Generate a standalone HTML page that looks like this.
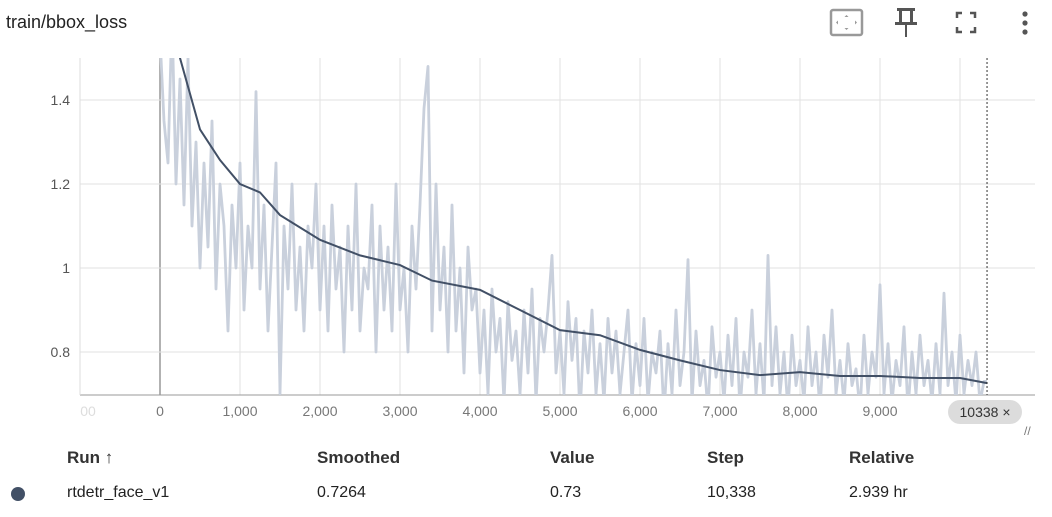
<!DOCTYPE html>
<html><head><meta charset="utf-8"><style>
body{margin:0;width:1052px;height:517px;background:#fff;font-family:"Liberation Sans",sans-serif;overflow:hidden;position:relative}
.t{position:absolute;white-space:nowrap}
</style></head><body>
<div class="t" style="left:6px;top:12px;font-size:18px;color:#222">train/bbox_loss</div>
<svg style="position:absolute;left:820px;top:0" width="232" height="50">
 <g><rect x="11" y="10" width="31" height="25" rx="2" fill="none" stroke="#999" stroke-width="2.5"/><path d="M26.5 15l-2 2h4zM26.5 30l-2-2h4zM16 22.5l2-2v4zM37 22.5l-2-2v4z" fill="#999"/></g>
 <g fill="#555"><rect x="77" y="8" width="18" height="3"/><rect x="79" y="11" width="3" height="12"/><rect x="90" y="11" width="3" height="12"/><rect x="75" y="22" width="22" height="3"/><rect x="85" y="25" width="2" height="12"/></g>
 <g fill="none" stroke="#555" stroke-width="2.5"><path d="M137 18v-5h5M150 13h5v5M155 27v5h-5M142 32h-5v-5"/></g>
 <g fill="#555"><circle cx="205" cy="14" r="2.6"/><circle cx="205" cy="23" r="2.6"/><circle cx="205" cy="32" r="2.6"/></g>
</svg>
<svg id="chart" style="position:absolute;left:0;top:0" width="1052" height="440"></svg>
<div class="t" style="left:948px;top:400px;width:74px;height:24px;border-radius:12px;background:#dcdcdc;font-size:14px;color:#333;line-height:24px;text-align:center">10338 ×</div>
<div class="t" style="left:1024px;top:424px;font-size:12px;color:#777">//</div>
<div>
<div class="t" style="left:67px;top:448px;font-size:17px;font-weight:bold;color:#333">Run ↑</div>
<div class="t" style="left:317px;top:448px;font-size:17px;font-weight:bold;color:#333">Smoothed</div>
<div class="t" style="left:550px;top:448px;font-size:17px;font-weight:bold;color:#333">Value</div>
<div class="t" style="left:707px;top:448px;font-size:17px;font-weight:bold;color:#333">Step</div>
<div class="t" style="left:849px;top:448px;font-size:17px;font-weight:bold;color:#333">Relative</div>
<div class="t" style="left:11px;top:487px;width:14px;height:14px;border-radius:50%;background:#425066"></div>
<div class="t" style="left:67px;top:484px;font-size:16px;color:#222">rtdetr_face_v1</div>
<div class="t" style="left:317px;top:484px;font-size:16px;color:#222">0.7264</div>
<div class="t" style="left:550px;top:484px;font-size:16px;color:#222">0.73</div>
<div class="t" style="left:707px;top:484px;font-size:16px;color:#222">10,338</div>
<div class="t" style="left:849px;top:484px;font-size:16px;color:#222">2.939 hr</div>
</div>
<script>
const xTicks=[-1000,0,1000,2000,3000,4000,5000,6000,7000,8000,9000];
const xTickLabels=["00","0","1,000","2,000","3,000","4,000","5,000","6,000","7,000","8,000","9,000"];
const yTicks=[0.8,1,1.2,1.4];
const yTickLabels=["0.8","1","1.2","1.4"];
const smoothSteps=[0,250,500,750,1000,1250,1500,2000,2500,3000,3400,4000,4500,5000,5500,6000,6500,7000,7500,8000,8500,9000,9500,10000,10338];
const smoothVals=[1.8,1.5,1.33,1.257,1.2,1.18,1.126,1.067,1.03,1.007,0.97,0.948,0.9,0.852,0.84,0.805,0.78,0.757,0.745,0.752,0.743,0.743,0.738,0.738,0.726];
const rawVals=[1.55,1.35,1.25,1.6,1.2,1.45,1.15,1.5,1.1,1.3,1.0,1.25,1.05,1.35,0.95,1.2,1.1,0.85,1.15,1.0,
1.25,0.9,1.1,1.0,1.42,0.95,1.15,0.85,1.05,1.25,0.7,1.1,0.95,1.2,0.9,1.05,0.85,1.1,1.0,1.2,
0.9,1.1,0.85,1.15,0.95,1.05,0.8,1.1,0.9,1.2,0.85,1.0,0.95,1.15,0.8,1.1,0.9,1.05,0.85,1.2,
0.9,1.0,0.8,1.1,0.95,1.15,1.38,1.48,0.85,1.2,0.9,1.05,0.8,1.15,0.85,1.0,0.75,1.05,0.9,0.95,
0.75,0.9,0.7,0.95,0.8,0.88,0.68,0.92,0.78,0.85,0.7,0.9,0.75,0.95,0.68,0.88,0.8,0.9,1.03,0.75,
0.85,0.7,0.92,0.78,0.88,0.65,0.85,0.75,0.9,0.7,0.82,0.68,0.88,0.75,0.85,0.7,0.8,0.9,0.68,0.82,
0.72,0.88,0.68,0.8,0.75,0.85,0.65,0.82,0.7,0.9,0.72,0.8,1.02,0.68,0.85,0.72,0.78,0.66,0.86,0.74,
0.8,0.68,0.84,0.72,0.88,0.66,0.8,0.74,0.9,0.7,0.82,0.68,1.03,0.72,0.86,0.7,0.8,0.66,0.84,0.72,
0.78,0.68,0.86,0.72,0.8,0.66,0.84,0.74,0.9,0.7,0.78,0.68,0.82,0.72,0.76,0.66,0.84,0.7,0.8,0.74,
0.96,0.7,0.82,0.68,0.78,0.72,0.86,0.66,0.8,0.7,0.84,0.72,0.78,0.68,0.82,0.7,0.94,0.72,0.8,0.68,
0.84,0.7,0.78,0.72,0.8,0.68,0.73];
const rawStepSize=50, lastStep=10338;
const X0=80,X1=1035,Y0=58,Y1=395;
const sx=s=>160+s*0.08;
const sy=v=>268-(v-1)*420;
const svg=document.getElementById('chart');
const NS='http://www.w3.org/2000/svg';
function mk(t,a){const e=document.createElementNS(NS,t);for(const k in a)e.setAttribute(k,a[k]);svg.appendChild(e);return e;}
const defs=mk('defs',{});const cp=document.createElementNS(NS,'clipPath');cp.setAttribute('id','c');
const cr=document.createElementNS(NS,'rect');cr.setAttribute('x',X0);cr.setAttribute('y',Y0);cr.setAttribute('width',X1-X0);cr.setAttribute('height',Y1-Y0);cp.appendChild(cr);defs.appendChild(cp);
xTicks.forEach((t,i)=>{
 const x=sx(t);
 if(x>X0+2){const l=mk('line',{x1:x,x2:x,y1:Y0,y2:Y1,stroke:t===0?'#999':'#e2e2e2','stroke-width':t===0?1.5:1});
 
 }
 const tx=mk('text',{x:Math.max(x,88),y:416,'text-anchor':'middle','font-size':14,fill:i===0?'#ddd':'#777','font-family':'Liberation Sans'});
 tx.textContent=xTickLabels[i];
 
 
});
{const l=mk('line',{x1:sx(10000),x2:sx(10000),y1:Y0,y2:Y1,stroke:'#e2e2e2'});

}
yTicks.forEach((t,i)=>{
 const y=sy(t);
 const l=mk('line',{x1:X0,x2:X1,y1:y,y2:y,stroke:'#e2e2e2'});
 
 
 const tx=mk('text',{x:70,y:y+5,'text-anchor':'end','font-size':14,fill:'#555','font-family':'Liberation Sans'});
 tx.textContent=yTickLabels[i];
 
 
});
const ax=mk('line',{x1:X0,x2:X1,y1:Y1,y2:Y1,stroke:'#999'});


const yax=mk('line',{x1:X0,x2:X0,y1:Y0,y2:Y1,stroke:'#ddd'});


let rp=rawVals.map((v,i)=>[sx(Math.min(i*rawStepSize,lastStep)),sy(v)]);
rp.push([sx(lastStep),sy(rawVals[rawVals.length-1])]);
const raw=mk('polyline',{points:rp.map(p=>p.join(',')).join(' '),fill:'none',stroke:'#c9d0dc','stroke-width':2.8,'stroke-linejoin':'round','clip-path':'url(#c)'});


const sm=mk('polyline',{points:smoothSteps.map((s,i)=>sx(s)+','+sy(smoothVals[i])).join(' '),fill:'none',stroke:'#425066','stroke-width':2,'clip-path':'url(#c)'});


const cur=mk('line',{x1:sx(lastStep),x2:sx(lastStep),y1:Y0,y2:Y1,stroke:'#333','stroke-dasharray':'2,2'});


</script>
</body></html>
